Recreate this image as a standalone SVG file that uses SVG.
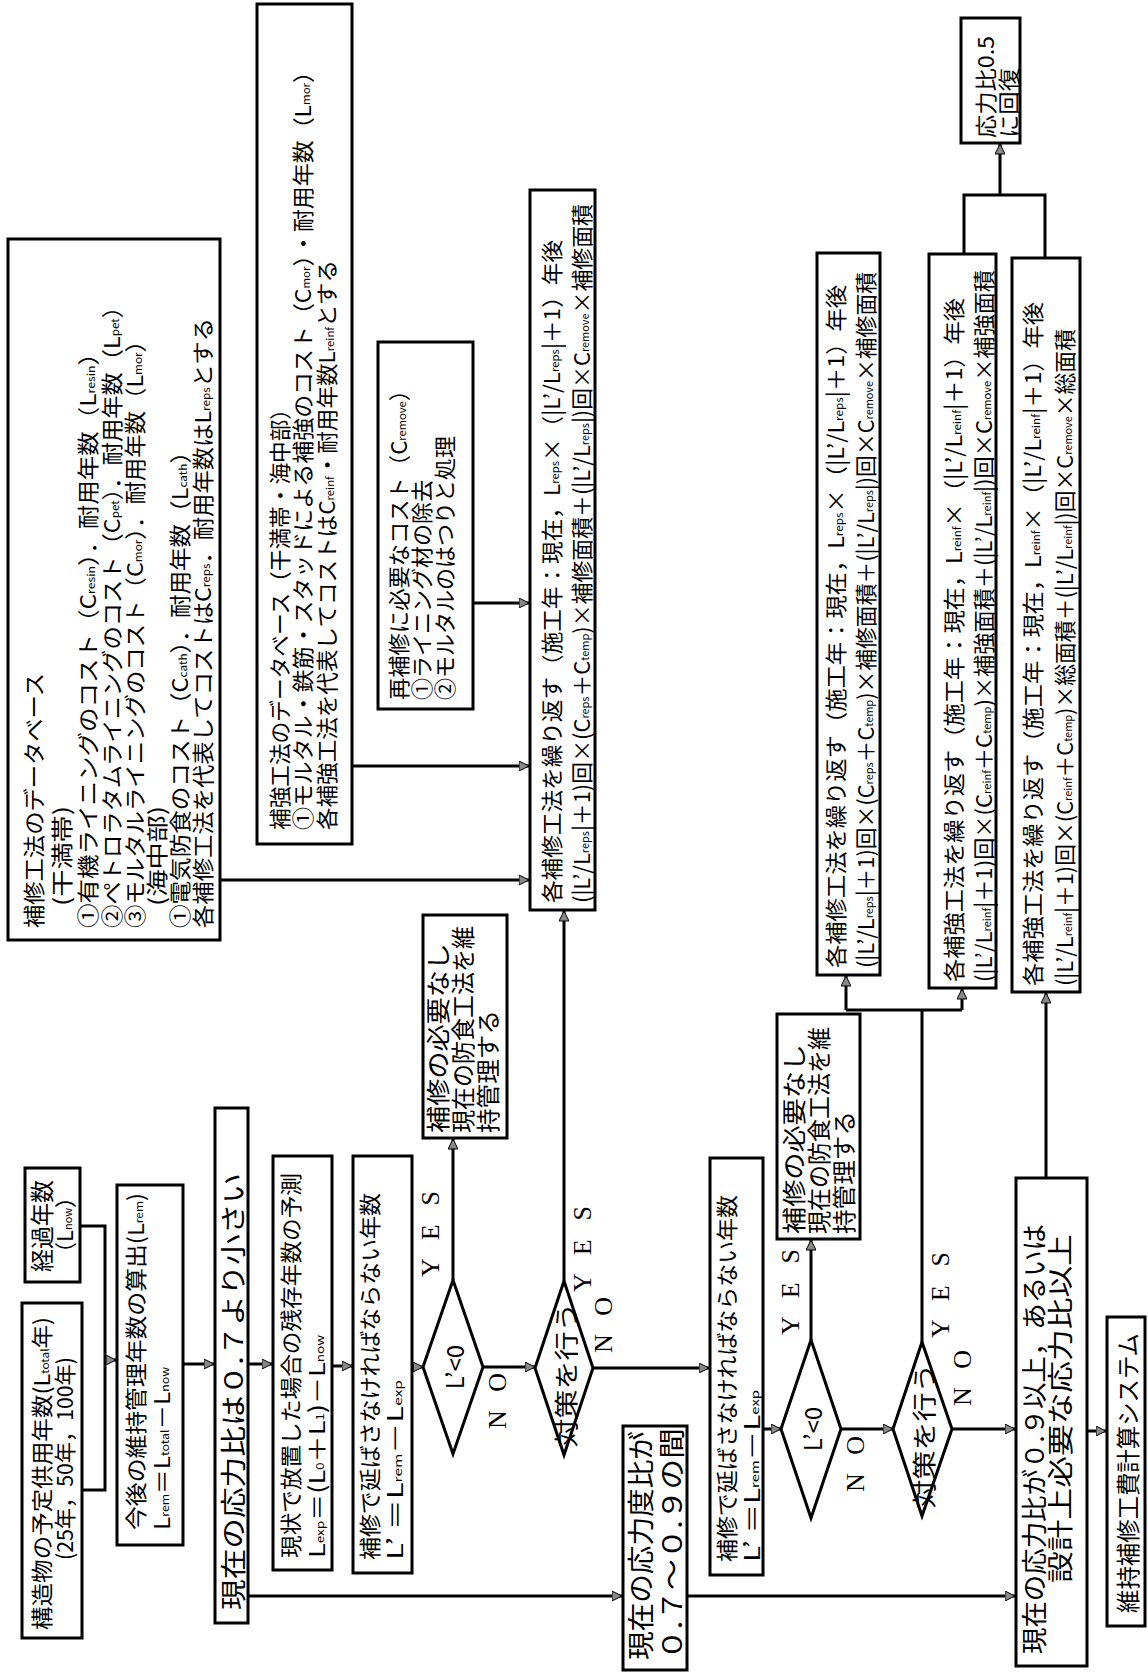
<svg xmlns="http://www.w3.org/2000/svg" width="1148" height="1673" viewBox="0 0 1148 1673">
<style>
.b{fill:#fff;stroke:#000;stroke-width:3}
.c{fill:none;stroke:#000;stroke-width:3}
.t{font-family:"Noto Sans CJK JP","Noto Sans",sans-serif;font-size:22px;dominant-baseline:central;fill:#000}
.m{text-anchor:middle}
.e{font-family:"Liberation Serif",serif;font-size:26px;dominant-baseline:central;text-anchor:middle;fill:#000}
.s{font-size:11px}
</style>
<defs>
<marker id="a" viewBox="0 0 10 10" refX="10" refY="5" markerWidth="11" markerHeight="10" markerUnits="userSpaceOnUse" orient="auto"><path d="M0,0L10,5L0,10z" fill="#888" stroke="#000" stroke-width="1"/></marker>
</defs>
<rect width="1148" height="1673" fill="#fff"/>
<g id="connectors">
<path class="c" d="M82,1490H105V1226H80"/>
<path class="c" d="M105,1360H116" marker-end="url(#a)"/>
<path class="c" d="M183,1364H214" marker-end="url(#a)"/>
<path class="c" d="M248,1364H272" marker-end="url(#a)"/>
<path class="c" d="M332,1366H352" marker-end="url(#a)"/>
<path class="c" d="M412,1367H423" marker-end="url(#a)"/>
<path class="c" d="M453,1280V1139" marker-end="url(#a)"/>
<path class="c" d="M483,1367H535" marker-end="url(#a)"/>
<path class="c" d="M564,1281V911" marker-end="url(#a)"/>
<path class="c" d="M593,1368H709" marker-end="url(#a)"/>
<path class="c" d="M763,1429H781" marker-end="url(#a)"/>
<path class="c" d="M811,1340V1240" marker-end="url(#a)"/>
<path class="c" d="M841,1429H893" marker-end="url(#a)"/>
<path class="c" d="M922,1342V1010M846,1010H962"/>
<path class="c" d="M846,1010V976" marker-end="url(#a)"/>
<path class="c" d="M962,1010V989" marker-end="url(#a)"/>
<path class="c" d="M952,1429H1015" marker-end="url(#a)"/>
<path class="c" d="M1046,1178V993" marker-end="url(#a)"/>
<path class="c" d="M1087,1431H1106" marker-end="url(#a)"/>
<path class="c" d="M248,1596H622" marker-end="url(#a)"/>
<path class="c" d="M687,1596H1015" marker-end="url(#a)"/>
<path class="c" d="M220,880H529" marker-end="url(#a)"/>
<path class="c" d="M352,766H529" marker-end="url(#a)"/>
<path class="c" d="M473,603H529" marker-end="url(#a)"/>
<path class="c" d="M964,254V195H1045V258"/>
<path class="c" d="M1000,195V144" marker-end="url(#a)"/>
</g>
<g id="n1"><rect class="b" x="22" y="1303" width="60" height="335"/>
<text class="t" transform="translate(40,1630) rotate(-90)" textLength="313" lengthAdjust="spacingAndGlyphs">構造物の予定供用年数(L<tspan class="s" dy="4">total</tspan><tspan dy="-4">年)</tspan></text>
<text class="t" transform="translate(63,1560) rotate(-90)" textLength="203" lengthAdjust="spacingAndGlyphs">(25年，50年，100年)</text></g>
<g id="n2"><rect class="b" x="25" y="1168" width="55" height="114"/>
<text class="t" style="font-size:24px" transform="translate(40,1272) rotate(-90)" textLength="92" lengthAdjust="spacingAndGlyphs">経過年数</text>
<text class="t" transform="translate(63,1264) rotate(-90)">（L<tspan class="s" dy="4">now</tspan><tspan dy="-4">）</tspan></text></g>
<g id="n3"><rect class="b" x="117" y="1185" width="66" height="360"/>
<text class="t" transform="translate(134,1530) rotate(-90)" textLength="337" lengthAdjust="spacingAndGlyphs">今後の維持管理年数の算出(L<tspan class="s" dy="4">rem</tspan><tspan dy="-4">)</tspan></text>
<text class="t" transform="translate(160,1530) rotate(-90)" textLength="163" lengthAdjust="spacingAndGlyphs">L<tspan class="s" dy="4">rem</tspan><tspan dy="-4">＝L</tspan><tspan class="s" dy="4">total</tspan><tspan dy="-4">－L</tspan><tspan class="s" dy="4">now</tspan></text></g>
<g id="n4"><rect class="b" x="215" y="1108" width="33" height="515"/>
<text class="t" style="font-size:26px" transform="translate(231,1610) rotate(-90)" textLength="437" lengthAdjust="spacingAndGlyphs">現在の応力比は０.７より小さい</text></g>
<g id="n5"><rect class="b" x="273" y="1156" width="59" height="414"/>
<text class="t" transform="translate(289,1558) rotate(-90)" textLength="385" lengthAdjust="spacingAndGlyphs">現状で放置した場合の残存年数の予測</text>
<text class="t" transform="translate(315,1558) rotate(-90)" textLength="223" lengthAdjust="spacingAndGlyphs">L<tspan class="s" dy="4">exp</tspan><tspan dy="-4">＝(L</tspan><tspan class="s" dy="4">0</tspan><tspan dy="-4">＋L</tspan><tspan class="s" dy="4">1</tspan><tspan dy="-4">)－L</tspan><tspan class="s" dy="4">now</tspan></text></g>
<g id="n6"><rect class="b" x="353" y="1156" width="59" height="417"/>
<text class="t" transform="translate(368,1560) rotate(-90)" textLength="367" lengthAdjust="spacingAndGlyphs">補修で延ばさなければならない年数</text>
<text class="t" transform="translate(393,1560) rotate(-90)" textLength="180" lengthAdjust="spacingAndGlyphs">L’ ＝L<tspan class="s" dy="4">rem</tspan><tspan dy="-4">－L</tspan><tspan class="s" dy="4">exp</tspan></text></g>
<g id="n7"><polygon class="b" points="423,1367 453,1280 483,1367 453,1454"/>
<text class="t m" style="font-size:24px" transform="translate(453,1367) rotate(-90)">L’&lt;0</text></g>
<g id="n8"><rect class="b" x="423" y="915" width="84" height="223"/>
<text class="t" style="font-size:24px" transform="translate(436,1133) rotate(-90)" textLength="190" lengthAdjust="spacingAndGlyphs">補修の必要なし</text>
<text class="t" style="font-size:24px" transform="translate(461,1133) rotate(-90)" textLength="207" lengthAdjust="spacingAndGlyphs">現在の防食工法を維</text>
<text class="t" style="font-size:24px" transform="translate(486,1133) rotate(-90)" textLength="123" lengthAdjust="spacingAndGlyphs">持管理する</text></g>
<g id="n9"><polygon class="b" points="535,1368 564,1281 593,1368 564,1455"/>
<text class="t m" style="font-size:24px" transform="translate(564,1375) rotate(-90)" textLength="145" lengthAdjust="spacingAndGlyphs">対策を行う</text></g>
<g id="n10"><rect class="b" x="530" y="190" width="65" height="720"/>
<text class="t" transform="translate(550,903) rotate(-90)" textLength="663" lengthAdjust="spacingAndGlyphs">各補修工法を繰り返す（施工年：現在，L<tspan class="s" dy="4">reps</tspan><tspan dy="-4">×（|L’/L</tspan><tspan class="s" dy="4">reps</tspan><tspan dy="-4">|＋1）年後</tspan></text>
<text class="t" transform="translate(580,903) rotate(-90)" textLength="699" lengthAdjust="spacingAndGlyphs">(|L’/L<tspan class="s" dy="4">reps</tspan><tspan dy="-4">|＋1)回×(C</tspan><tspan class="s" dy="4">reps</tspan><tspan dy="-4">＋C</tspan><tspan class="s" dy="4">temp</tspan><tspan dy="-4">)×補修面積＋(|L’/L</tspan><tspan class="s" dy="4">reps</tspan><tspan dy="-4">|)回×C</tspan><tspan class="s" dy="4">remove</tspan><tspan dy="-4">×補修面積</tspan></text></g>
<g id="n11"><rect class="b" x="8" y="239" width="212" height="701"/>
<text class="t" transform="translate(32,928) rotate(-90)" textLength="255" lengthAdjust="spacingAndGlyphs">補修工法のデータベース</text>
<text class="t" transform="translate(60,906) rotate(-90)" textLength="100" lengthAdjust="spacingAndGlyphs">(干満帯)</text>
<text class="t" transform="translate(86,928) rotate(-90)" textLength="587" lengthAdjust="spacingAndGlyphs">①有機ライニングのコスト（C<tspan class="s" dy="4">resin</tspan><tspan dy="-4">）．耐用年数（L</tspan><tspan class="s" dy="4">resin</tspan><tspan dy="-4">）</tspan></text>
<text class="t" transform="translate(110,928) rotate(-90)" textLength="633" lengthAdjust="spacingAndGlyphs">②ペトロラタムライニングのコスト（C<tspan class="s" dy="4">pet</tspan><tspan dy="-4">）．耐用年数（L</tspan><tspan class="s" dy="4">pet</tspan><tspan dy="-4">）</tspan></text>
<text class="t" transform="translate(133,928) rotate(-90)" textLength="599" lengthAdjust="spacingAndGlyphs">③モルタルライニングのコスト（C<tspan class="s" dy="4">mor</tspan><tspan dy="-4">）．耐用年数（L</tspan><tspan class="s" dy="4">mor</tspan><tspan dy="-4">）</tspan></text>
<text class="t" transform="translate(155,906) rotate(-90)" textLength="100" lengthAdjust="spacingAndGlyphs">(海中部)</text>
<text class="t" transform="translate(178,928) rotate(-90)" textLength="488" lengthAdjust="spacingAndGlyphs">①電気防食のコスト（C<tspan class="s" dy="4">cath</tspan><tspan dy="-4">）．耐用年数（L</tspan><tspan class="s" dy="4">cath</tspan><tspan dy="-4">）</tspan></text>
<text class="t" transform="translate(201,928) rotate(-90)" textLength="610" lengthAdjust="spacingAndGlyphs">各補修工法を代表してコストはC<tspan class="s" dy="4">reps</tspan><tspan dy="-4">．耐用年数はL</tspan><tspan class="s" dy="4">reps</tspan><tspan dy="-4">とする</tspan></text></g>
<g id="n12"><rect class="b" x="257" y="4" width="95" height="840"/>
<text class="t" transform="translate(278,830) rotate(-90)" textLength="432" lengthAdjust="spacingAndGlyphs">補強工法のデータベース（干満帯・海中部）</text>
<text class="t" transform="translate(301,830) rotate(-90)" textLength="770" lengthAdjust="spacingAndGlyphs">①モルタル・鉄筋・スタッドによる補強のコスト（C<tspan class="s" dy="4">mor</tspan><tspan dy="-4">）・耐用年数（L</tspan><tspan class="s" dy="4">mor</tspan><tspan dy="-4">）</tspan></text>
<text class="t" transform="translate(325,830) rotate(-90)" textLength="570" lengthAdjust="spacingAndGlyphs">各補強工法を代表してコストはC<tspan class="s" dy="4">reinf</tspan><tspan dy="-4">・耐用年数L</tspan><tspan class="s" dy="4">reinf</tspan><tspan dy="-4">とする</tspan></text></g>
<g id="n13"><rect class="b" x="378" y="342" width="95" height="367"/>
<text class="t" transform="translate(397,700) rotate(-90)" textLength="321" lengthAdjust="spacingAndGlyphs">再補修に必要なコスト（C<tspan class="s" dy="4">remove</tspan><tspan dy="-4">）</tspan></text>
<text class="t" transform="translate(420,700) rotate(-90)">①ライニング材の除去</text>
<text class="t" transform="translate(443,700) rotate(-90)">②モルタルのはつりと処理</text></g>
<g id="n14"><rect class="b" x="623" y="1426" width="64" height="244"/>
<text class="t" style="font-size:27px" transform="translate(639,1660) rotate(-90)" textLength="229" lengthAdjust="spacingAndGlyphs">現在の応力度比が</text>
<text class="t" style="font-size:27px" transform="translate(670,1660) rotate(-90)" textLength="232" lengthAdjust="spacingAndGlyphs">０.７～０.９の間</text></g>
<g id="n15"><rect class="b" x="710" y="1158" width="53" height="417"/>
<text class="t" transform="translate(725,1562) rotate(-90)" textLength="367" lengthAdjust="spacingAndGlyphs">補修で延ばさなければならない年数</text>
<text class="t" transform="translate(750,1562) rotate(-90)" textLength="172" lengthAdjust="spacingAndGlyphs">L’ ＝L<tspan class="s" dy="4">rem</tspan><tspan dy="-4">－L</tspan><tspan class="s" dy="4">exp</tspan></text></g>
<g id="n16"><polygon class="b" points="781,1429 811,1340 841,1429 811,1518"/>
<text class="t m" style="font-size:24px" transform="translate(811,1429) rotate(-90)">L’&lt;0</text></g>
<g id="n17"><rect class="b" x="777" y="1014" width="83" height="225"/>
<text class="t" style="font-size:24px" transform="translate(792,1234) rotate(-90)" textLength="190" lengthAdjust="spacingAndGlyphs">補修の必要なし</text>
<text class="t" style="font-size:24px" transform="translate(817,1234) rotate(-90)" textLength="207" lengthAdjust="spacingAndGlyphs">現在の防食工法を維</text>
<text class="t" style="font-size:24px" transform="translate(842,1234) rotate(-90)" textLength="123" lengthAdjust="spacingAndGlyphs">持管理する</text></g>
<g id="n18"><polygon class="b" points="893,1429 922,1342 952,1429 922,1516"/>
<text class="t m" style="font-size:24px" transform="translate(922,1436) rotate(-90)" textLength="145" lengthAdjust="spacingAndGlyphs">対策を行う</text></g>
<g id="n19"><rect class="b" x="817" y="253" width="63" height="722"/>
<text class="t" transform="translate(834,968) rotate(-90)" textLength="683" lengthAdjust="spacingAndGlyphs">各補修工法を繰り返す（施工年：現在，L<tspan class="s" dy="4">reps</tspan><tspan dy="-4">×（|L’/L</tspan><tspan class="s" dy="4">reps</tspan><tspan dy="-4">|＋1）年後</tspan></text>
<text class="t" transform="translate(864,968) rotate(-90)" textLength="696" lengthAdjust="spacingAndGlyphs">(|L’/L<tspan class="s" dy="4">reps</tspan><tspan dy="-4">|＋1)回×(C</tspan><tspan class="s" dy="4">reps</tspan><tspan dy="-4">＋C</tspan><tspan class="s" dy="4">temp</tspan><tspan dy="-4">)×補修面積＋(|L’/L</tspan><tspan class="s" dy="4">reps</tspan><tspan dy="-4">|)回×C</tspan><tspan class="s" dy="4">remove</tspan><tspan dy="-4">×補修面積</tspan></text></g>
<g id="n20"><rect class="b" x="929" y="254" width="67" height="734"/>
<text class="t" transform="translate(952,982) rotate(-90)" textLength="684" lengthAdjust="spacingAndGlyphs">各補強工法を繰り返す（施工年：現在，L<tspan class="s" dy="4">reinf</tspan><tspan dy="-4">×（|L’/L</tspan><tspan class="s" dy="4">reinf</tspan><tspan dy="-4">|＋1）年後</tspan></text>
<text class="t" transform="translate(982,982) rotate(-90)" textLength="712" lengthAdjust="spacingAndGlyphs">(|L’/L<tspan class="s" dy="4">reinf</tspan><tspan dy="-4">|＋1)回×(C</tspan><tspan class="s" dy="4">reinf</tspan><tspan dy="-4">＋C</tspan><tspan class="s" dy="4">temp</tspan><tspan dy="-4">)×補強面積＋(|L’/L</tspan><tspan class="s" dy="4">reinf</tspan><tspan dy="-4">|)回×C</tspan><tspan class="s" dy="4">remove</tspan><tspan dy="-4">×補強面積</tspan></text></g>
<g id="n21"><rect class="b" x="1012" y="258" width="68" height="734"/>
<text class="t" transform="translate(1031,986) rotate(-90)" textLength="684" lengthAdjust="spacingAndGlyphs">各補強工法を繰り返す（施工年：現在，L<tspan class="s" dy="4">reinf</tspan><tspan dy="-4">×（|L’/L</tspan><tspan class="s" dy="4">reinf</tspan><tspan dy="-4">|＋1）年後</tspan></text>
<text class="t" transform="translate(1063,986) rotate(-90)" textLength="657" lengthAdjust="spacingAndGlyphs">(|L’/L<tspan class="s" dy="4">reinf</tspan><tspan dy="-4">|＋1)回×(C</tspan><tspan class="s" dy="4">reinf</tspan><tspan dy="-4">＋C</tspan><tspan class="s" dy="4">temp</tspan><tspan dy="-4">)×総面積＋(|L’/L</tspan><tspan class="s" dy="4">reinf</tspan><tspan dy="-4">|)回×C</tspan><tspan class="s" dy="4">remove</tspan><tspan dy="-4">×総面積</tspan></text></g>
<g id="n22"><rect class="b" x="1016" y="1178" width="71" height="488"/>
<text class="t" style="font-size:26px" transform="translate(1032,1654) rotate(-90)" textLength="430" lengthAdjust="spacingAndGlyphs">現在の応力比が０.９以上，あるいは</text>
<text class="t" style="font-size:26px" transform="translate(1058,1583) rotate(-90)" textLength="349" lengthAdjust="spacingAndGlyphs">設計上必要な応力比以上</text></g>
<g id="n23"><rect class="b" x="1107" y="1317" width="38" height="309"/>
<text class="t" style="font-size:24px" transform="translate(1126,1613) rotate(-90)" textLength="280" lengthAdjust="spacingAndGlyphs">維持補修工費計算システム</text></g>
<g id="n24"><rect class="b" x="961" y="18" width="59" height="125"/>
<text class="t" transform="translate(984,138) rotate(-90)" textLength="102" lengthAdjust="spacingAndGlyphs">応力比0.5</text>
<text class="t" transform="translate(1007,138) rotate(-90)" textLength="70" lengthAdjust="spacingAndGlyphs">に回復</text></g>
<g id="labels">
<text class="e" transform="translate(430,1234) rotate(-90)" textLength="86" lengthAdjust="spacing">Y E S</text>
<text class="e" transform="translate(497,1401) rotate(-90)" textLength="56" lengthAdjust="spacing">N O</text>
<text class="e" transform="translate(582,1249) rotate(-90)" textLength="86" lengthAdjust="spacing">Y E S</text>
<text class="e" transform="translate(603,1325) rotate(-90)" textLength="56" lengthAdjust="spacing">N O</text>
<text class="e" transform="translate(790,1292) rotate(-90)" textLength="86" lengthAdjust="spacing">Y E S</text>
<text class="e" transform="translate(855,1464) rotate(-90)" textLength="56" lengthAdjust="spacing">N O</text>
<text class="e" transform="translate(940,1295) rotate(-90)" textLength="86" lengthAdjust="spacing">Y E S</text>
<text class="e" transform="translate(962,1378) rotate(-90)" textLength="56" lengthAdjust="spacing">N O</text>
</g>
</svg>
